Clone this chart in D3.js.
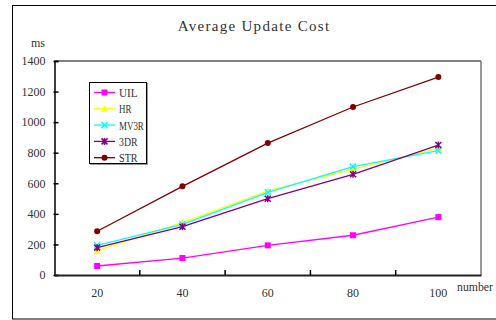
<!DOCTYPE html>
<html><head><meta charset="utf-8">
<script src="https://cdn.jsdelivr.net/npm/d3@7/dist/d3.min.js"></script>
<style>body{margin:0;background:#fff}svg{display:block}</style>
</head><body>
<script>
const categories = ["20","40","60","80","100"];
const seriesNames = ["UIL","HR","MV3R","3DR","STR"];
const UIL  = [59, 111, 194, 260, 379];
const HR   = [159, 342, 550, 693, 829];
const MV3R = [194, 331, 541, 709, 813];
const DR3  = [179, 316, 499, 659, 850];
const STR  = [286, 580, 863, 1099, 1295];
const yTicks = [0,200,400,600,800,1000,1200,1400];
const colors = ["#ff00ff","#ffff00","#00ffff","#800080","#800000"];
const markers = ["square","triangle","x","star","circle"];
const seriesData = [UIL,HR,MV3R,DR3,STR];

const W=496,H=320;
const svg=d3.select("body").append("svg").attr("width",W).attr("height",H);
const font="'Liberation Serif', serif";
const txt="#333";

// outer border
svg.append("rect").attr("x",12.5).attr("y",5.5).attr("width",W).attr("height",313.5)
  .attr("fill","none").attr("stroke","#000").attr("stroke-width",1);

const L=54.5,R=481,T=61,B=275;
const x=d3.scaleBand().domain(categories).range([L,R]).padding(0);
const y=d3.scaleLinear().domain([0,1400]).range([B,T]);

// plot frame
svg.append("line").attr("x1",L).attr("x2",R).attr("y1",T).attr("y2",T).attr("stroke","#000");
svg.append("line").attr("x1",R).attr("x2",R).attr("y1",T).attr("y2",B).attr("stroke","#777").attr("stroke-width",1.5);

// y axis
const ya=svg.append("g").attr("transform",`translate(${L},0)`)
  .call(d3.axisLeft(y).tickValues(yTicks).tickSize(-4).tickPadding(9).tickFormat(d3.format("d")));
ya.select(".domain").attr("stroke","#000").attr("stroke-width",1.5);
ya.selectAll(".tick line").attr("stroke","#000").attr("stroke-width",1.5)
  .attr("x1",-1).attr("x2",4);
ya.selectAll("text").attr("font-family",font).attr("font-size",12).attr("fill",txt);

// x axis
const xa=svg.append("g").attr("transform",`translate(0,${B})`)
  .call(d3.axisBottom(x).tickSize(0).tickPadding(13));
xa.select(".domain").attr("stroke","#222").attr("stroke-width",2);
xa.selectAll("text").attr("font-family",font).attr("font-size",12).attr("fill",txt);
// x tick marks at band boundaries
svg.append("g").selectAll("line").data(categories.slice(1)).join("line")
  .attr("x1",d=>x(d)).attr("x2",d=>x(d)).attr("y1",B).attr("y2",B-5)
  .attr("stroke","#000").attr("stroke-width",1.5);

// labels
svg.append("text").attr("x",254).attr("y",31).attr("text-anchor","middle")
  .attr("font-family",font).attr("font-size",15).attr("letter-spacing",1.3).attr("fill",txt)
  .text("Average Update Cost");
svg.append("text").attr("x",45).attr("y",47).attr("text-anchor","end")
  .attr("font-family",font).attr("font-size",12).attr("fill",txt).text("ms");
svg.append("text").attr("x",457).attr("y",291)
  .attr("font-family",font).attr("font-size",12).attr("textLength",36).attr("lengthAdjust","spacingAndGlyphs")
  .attr("fill",txt).text("number");

function drawMarker(g,type,cx,cy,color){
  if(type==="square"){
    g.append("rect").attr("x",cx-3).attr("y",cy-3).attr("width",6).attr("height",6).attr("fill",color);
  } else if(type==="triangle"){
    g.append("path").attr("d",`M${cx},${cy-3.5}L${cx+3.5},${cy+3}L${cx-3.5},${cy+3}Z`).attr("fill",color);
  } else if(type==="x"){
    g.append("path").attr("d",`M${cx-3},${cy-3}L${cx+3},${cy+3}M${cx+3},${cy-3}L${cx-3},${cy+3}`)
      .attr("stroke",color).attr("stroke-width",1.5);
  } else if(type==="star"){
    g.append("path").attr("d",`M${cx-3},${cy-3}L${cx+3},${cy+3}M${cx+3},${cy-3}L${cx-3},${cy+3}M${cx},${cy-3.5}L${cx},${cy+3.5}`)
      .attr("stroke",color).attr("stroke-width",1.5);
  } else {
    g.append("circle").attr("cx",cx).attr("cy",cy).attr("r",3).attr("fill",color);
  }
}

const line=d3.line().x((d,i)=>x(categories[i])+x.bandwidth()/2).y(d=>y(d));
seriesData.forEach((vals,si)=>{
  const g=svg.append("g");
  g.append("path").datum(vals).attr("d",line).attr("fill","none")
    .attr("stroke",colors[si]).attr("stroke-width",1.3);
  vals.forEach((v,i)=>drawMarker(g,markers[si],x(categories[i])+x.bandwidth()/2,y(v),colors[si]));
});

// legend
const lg=svg.append("g");
lg.append("rect").attr("x",90).attr("y",83).attr("width",58).attr("height",82)
  .attr("fill","#999");
lg.append("rect").attr("x",89.5).attr("y",82.5).attr("width",57).attr("height",81)
  .attr("fill","#fff").attr("stroke","#000");
seriesNames.forEach((n,i)=>{
  const cy=92.5+i*16.3;
  lg.append("line").attr("x1",94).attr("x2",115).attr("y1",cy).attr("y2",cy)
    .attr("stroke",colors[i]).attr("stroke-width",1.3);
  drawMarker(lg,markers[i],104.5,cy,colors[i]);
  lg.append("text").attr("x",119).attr("y",cy+4.5).attr("font-family",font).attr("font-size",12)
    .attr("textLength",n.length*6.2).attr("lengthAdjust","spacingAndGlyphs")
    .attr("fill",txt).text(n);
});
</script>
</body></html>
